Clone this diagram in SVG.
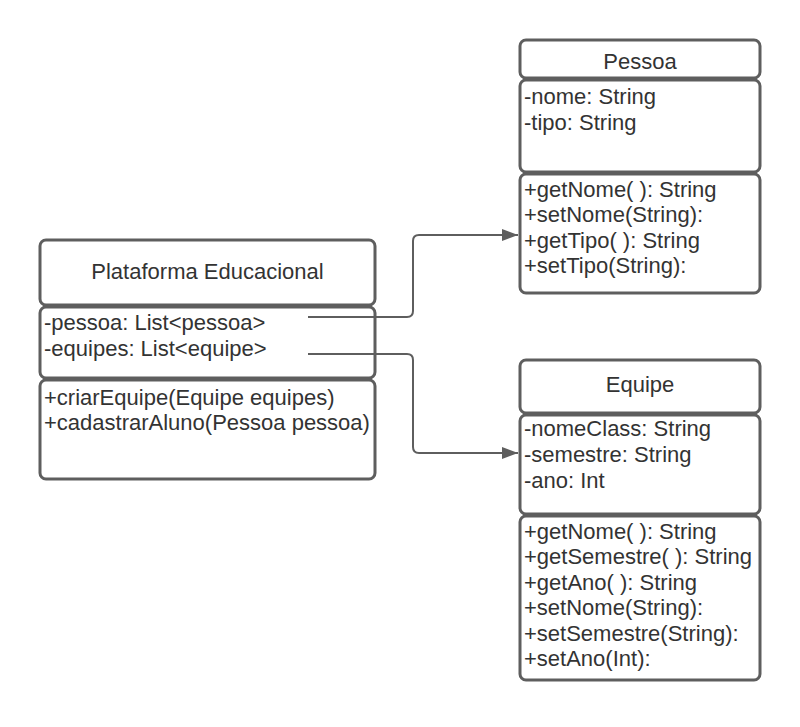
<svg xmlns="http://www.w3.org/2000/svg" width="800" height="727" viewBox="0 0 800 727">
<style>
  .box { fill: #ffffff; stroke: #5e5e5e; stroke-width: 3; }
  .t { font-family: "Liberation Sans", Arial, sans-serif; font-size: 22px; fill: #333333; }
  .c { text-anchor: middle; }
  .conn { fill: none; stroke: #5e5e5e; stroke-width: 2; }
</style>
<defs>
  <marker id="arrow" viewBox="0 0 16 12" refX="16" refY="6" markerWidth="16" markerHeight="12" markerUnits="userSpaceOnUse" orient="auto">
    <path d="M0,0 L16,6 L0,12 Z" fill="#5e5e5e"/>
  </marker>
</defs>
<rect width="800" height="727" fill="#ffffff"/>

<g id="plataforma">
  <rect class="box" x="40" y="240" width="335" height="65" rx="6"/>
  <rect class="box" x="40" y="307" width="335" height="71" rx="6"/>
  <rect class="box" x="40" y="380" width="335" height="99" rx="6"/>
  <text class="t c" x="207.5" y="279">Plataforma Educacional</text>
  <text class="t" x="44" y="330">-pessoa: List&lt;pessoa&gt;</text>
  <text class="t" x="44" y="356">-equipes: List&lt;equipe&gt;</text>
  <text class="t" x="44" y="405">+criarEquipe(Equipe equipes)</text>
  <text class="t" x="44" y="430">+cadastrarAluno(Pessoa pessoa)</text>
</g>

<g id="pessoa">
  <rect class="box" x="520" y="40" width="240" height="38" rx="6"/>
  <rect class="box" x="520" y="80" width="240" height="92" rx="6"/>
  <rect class="box" x="520" y="174" width="240" height="119" rx="6"/>
  <text class="t c" x="640" y="69">Pessoa</text>
  <text class="t" x="524" y="104">-nome: String</text>
  <text class="t" x="524" y="130">-tipo: String</text>
  <text class="t" x="524" y="197">+getNome( ): String</text>
  <text class="t" x="524" y="222">+setNome(String):</text>
  <text class="t" x="524" y="248">+getTipo( ): String</text>
  <text class="t" x="524" y="273">+setTipo(String):</text>
</g>

<g id="equipe">
  <rect class="box" x="520" y="360" width="240" height="53" rx="6"/>
  <rect class="box" x="520" y="415" width="240" height="99" rx="6"/>
  <rect class="box" x="520" y="516" width="240" height="164" rx="6"/>
  <text class="t c" x="640" y="392">Equipe</text>
  <text class="t" x="524" y="436">-nomeClass: String</text>
  <text class="t" x="524" y="462">-semestre: String</text>
  <text class="t" x="524" y="488">-ano: Int</text>
  <text class="t" x="524" y="539">+getNome( ): String</text>
  <text class="t" x="524" y="564">+getSemestre( ): String</text>
  <text class="t" x="524" y="590">+getAno( ): String</text>
  <text class="t" x="524" y="615">+setNome(String):</text>
  <text class="t" x="524" y="641">+setSemestre(String):</text>
  <text class="t" x="524" y="666">+setAno(Int):</text>
</g>

<g id="connectors">
  <path class="conn" d="M308,317 H407 Q413,317 413,311 V241 Q413,235 419,235 H518" marker-end="url(#arrow)"/>
  <path class="conn" d="M308,354 H407 Q413,354 413,360 V447 Q413,453 419,453 H518" marker-end="url(#arrow)"/>
</g>
</svg>
